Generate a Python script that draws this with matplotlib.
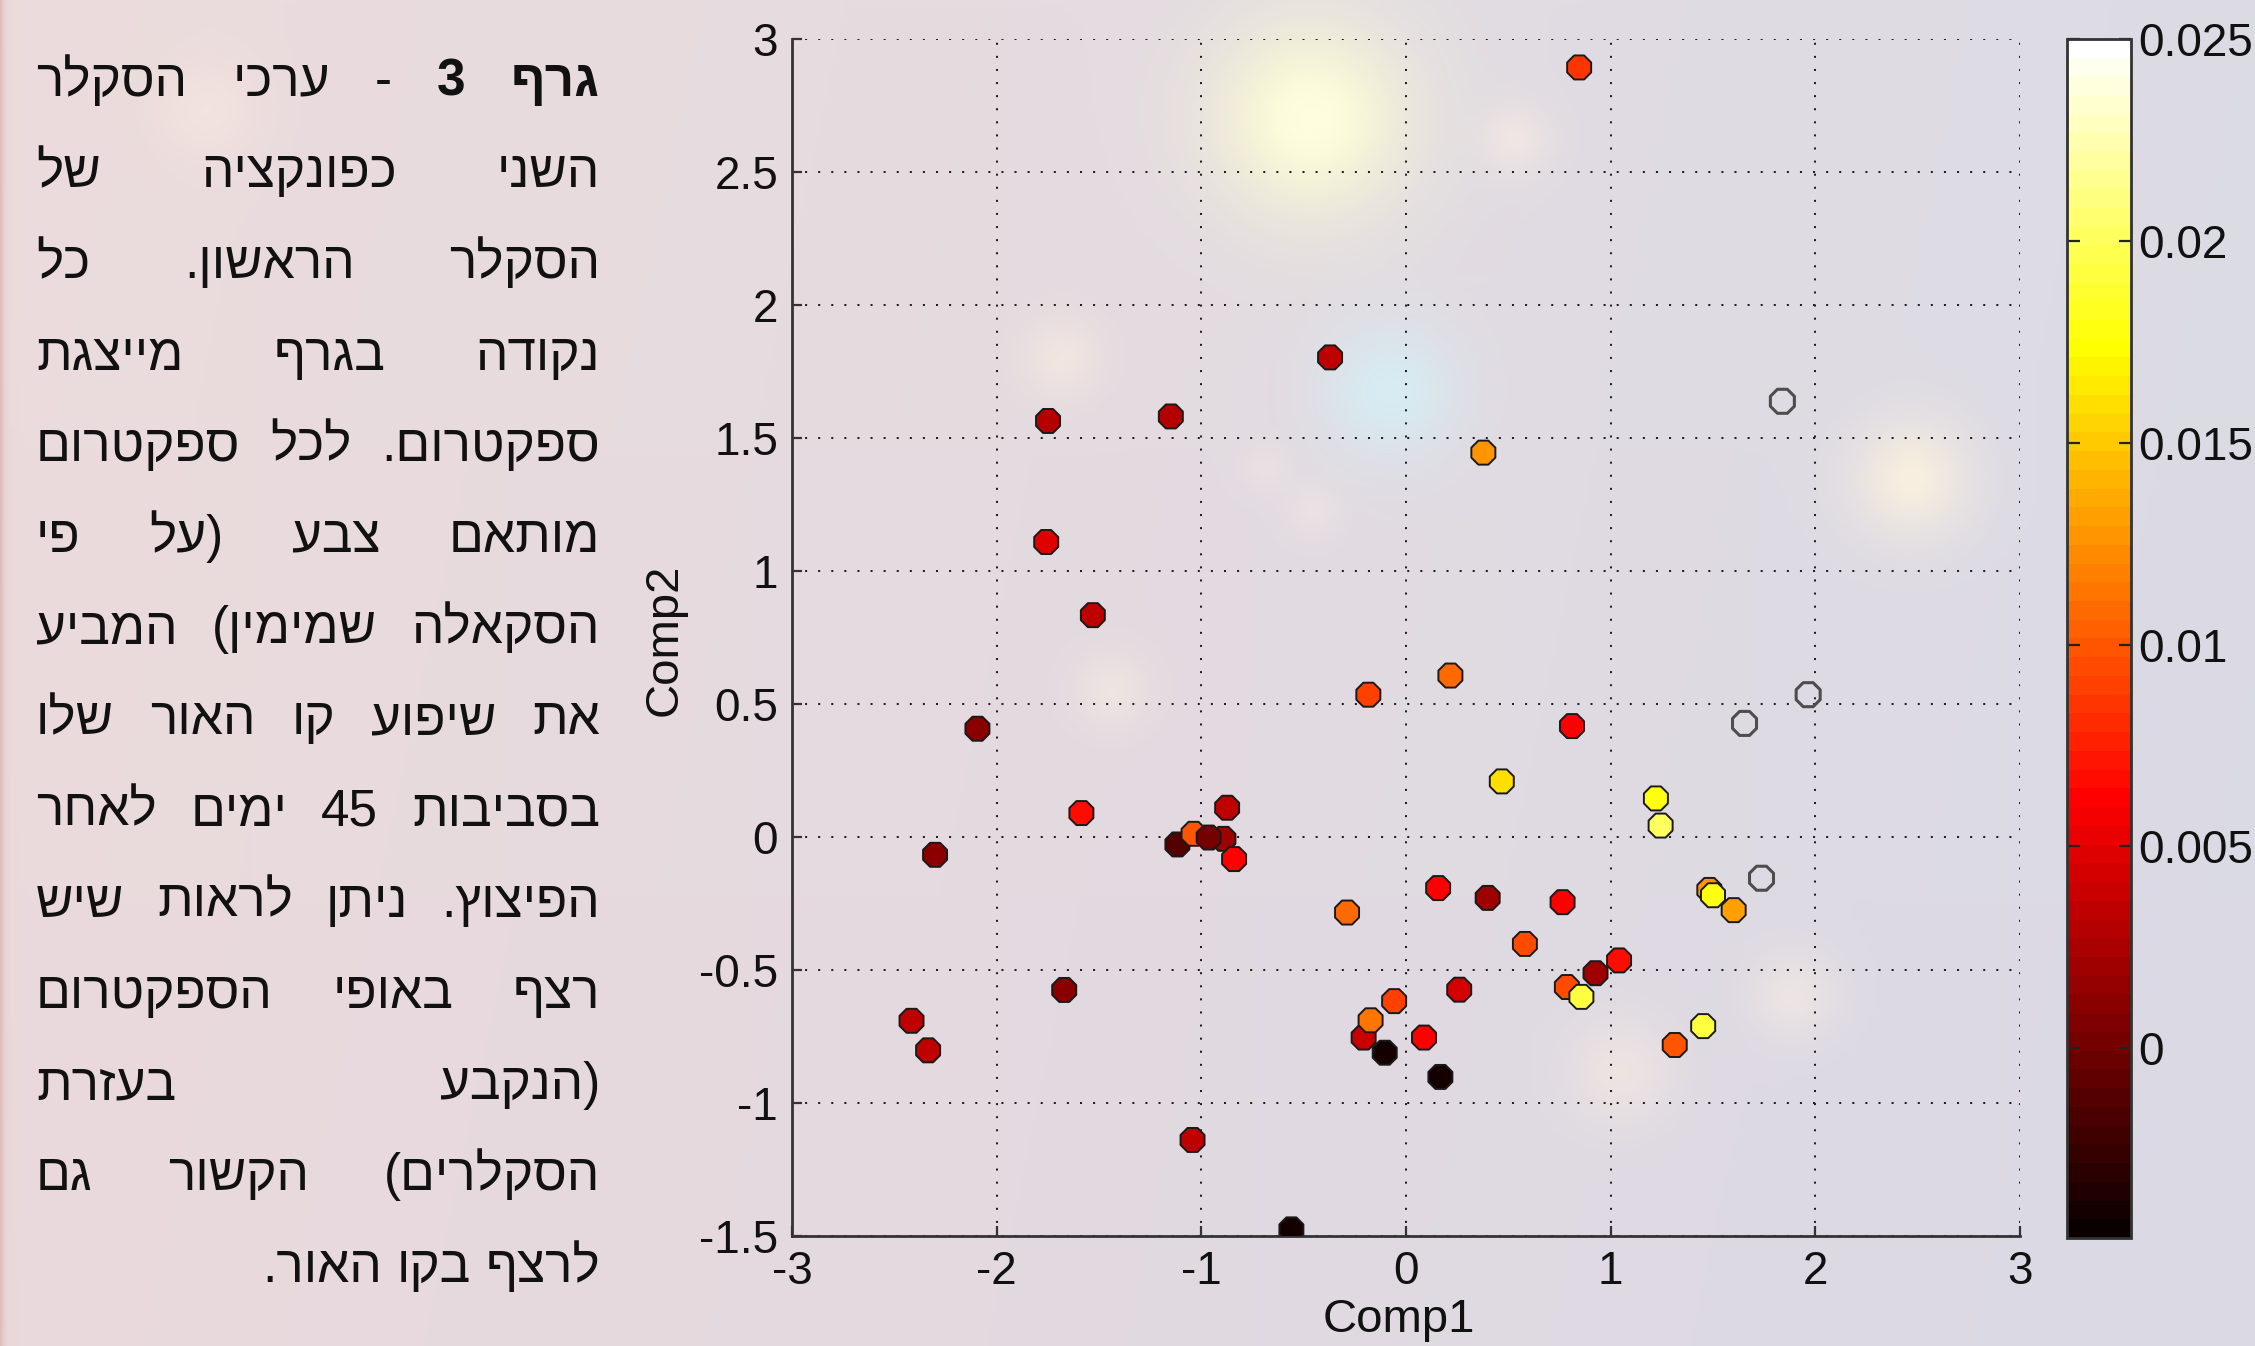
import numpy as np
import matplotlib
matplotlib.use("Agg")
import matplotlib.pyplot as plt
from matplotlib.colors import Normalize
from matplotlib.ticker import FuncFormatter

# ---- data -------------------------------------------------------------
comp1 = [-1.749, -1.149, -1.758, -1.530, -0.371, 0.846, 0.378, -2.094,
         -1.586, -2.301, -0.874, -1.117, -1.038, -0.892, -0.964, -0.840,
         -1.670, -2.416, -2.335, -1.043, -0.560, -0.184, 0.217, 0.811,
         0.468, 1.221, 1.244, 1.482, 1.500, 1.601, 0.157, 0.399,
         0.765, -0.288, 0.581, 1.041, 0.926, 0.786, 0.857, 0.260,
         -0.058, -0.207, -0.173, -0.104, 0.088, 0.168, 1.452, 1.313]
comp2 = [1.564, 1.581, 1.109, 0.834, 1.803, 2.893, 1.445, 0.407,
         0.090, -0.067, 0.110, -0.028, 0.012, -0.007, -0.002, -0.083,
         -0.575, -0.691, -0.802, -1.139, -1.475, 0.535, 0.607, 0.417,
         0.209, 0.145, 0.043, -0.199, -0.219, -0.275, -0.192, -0.229,
         -0.245, -0.284, -0.402, -0.464, -0.512, -0.564, -0.601, -0.574,
         -0.617, -0.754, -0.689, -0.811, -0.754, -0.902, -0.711, -0.782]
slope = [0.0028, 0.0030, 0.0050, 0.0032, 0.0034, 0.0087, 0.0128, 0.0012,
         0.0065, 0.0013, 0.0033, -0.0014, 0.0100, 0.0022, 0.0004, 0.0060,
         0.0012, 0.0036, 0.0036, 0.0033, -0.0042, 0.0090, 0.0110, 0.0062,
         0.0158, 0.0180, 0.0202, 0.0125, 0.0178, 0.0130, 0.0062, 0.0022,
         0.0064, 0.0108, 0.0096, 0.0066, 0.0020, 0.0095, 0.0191, 0.0045,
         0.0090, 0.0040, 0.0113, -0.0040, 0.0063, -0.0041, 0.0190, 0.0101]

# spectra with no slope value (drawn hollow)
open_comp1 = [1.839, 1.965, 1.654, 1.737]
open_comp2 = [1.638, 0.535, 0.427, -0.155]

x_ticks = [-3, -2, -1, 0, 1, 2, 3]
y_ticks = [-1.5, -1, -0.5, 0, 0.5, 1, 1.5, 2, 2.5, 3]
cbar_ticks = [0, 0.005, 0.01, 0.015, 0.02, 0.025]
cbar_limits = (-0.0047, 0.025)

caption_lines = [
    "גרף 3 - ערכי הסקלר",
    "השני כפונקציה של",
    "הסקלר הראשון. כל",
    "נקודה בגרף מייצגת",
    "ספקטרום. לכל ספקטרום",
    "מותאם צבע (על פי",
    "הסקאלה שמימין) המביע",
    "את שיפוע קו האור שלו",
    "בסביבות 45 ימים לאחר",
    "הפיצוץ. ניתן לראות שיש",
    "רצף באופי הספקטרום",
    "(הנקבע בעזרת",
    "הסקלרים) הקשור גם",
    "לרצף בקו האור.",
]
bold_words = {(0, 0), (0, 1)}

# ---- figure ------------------------------------------------------------
W, H, DPI = 2255, 1346, 100
plt.rcParams['axes.unicode_minus'] = False
fig = plt.figure(figsize=(W / DPI, H / DPI), dpi=DPI)

# soft bokeh backdrop
bg = fig.add_axes([0, 0, 1, 1], zorder=-10)
step = 2
yy, xx = np.mgrid[0:H:step, 0:W:step].astype(float)
fx = xx / W
fy = yy / H
left_col = np.array([236, 220, 220], float)
right_col = np.array([220, 220, 229], float)
img = left_col * (1 - fx[..., None]) + right_col * fx[..., None]
img += np.array([-2, -3, 0], float) * fy[..., None]
glows = [
    (1311, 118, 70, (255, 255, 210), 0.9),
    (1311, 118, 30, (255, 255, 228), 0.75),
    (1390, 390, 48, (212, 240, 247), 0.8),
    (1912, 478, 40, (255, 244, 222), 0.8),
    (1515, 138, 24, (250, 236, 228), 0.6),
    (1061, 357, 28, (250, 236, 222), 0.6),
    (1111, 690, 26, (250, 238, 225), 0.5),
    (206, 110, 36, (248, 232, 225), 0.6),
    (1621, 1071, 36, (252, 238, 225), 0.5),
    (1793, 995, 30, (252, 240, 228), 0.5),
    (1313, 510, 18, (248, 236, 228), 0.4),
    (1265, 467, 16, (246, 234, 228), 0.4),
]
for gx, gy, sig, col, strength in glows:
    w = strength * np.exp(-((xx - gx) ** 2 + (yy - gy) ** 2) / (2 * sig ** 2))
    img = img * (1 - w[..., None]) + np.array(col, float) * w[..., None]
edge = np.exp(-xx / 3.0) * 0.6
img = img * (1 - edge[..., None]) + np.array([215, 170, 165], float) * edge[..., None]
bg.imshow(np.clip(img, 0, 255).astype(np.uint8), extent=[0, W, H, 0],
          interpolation='bilinear', aspect='auto')
bg.set_xlim(0, W)
bg.set_ylim(H, 0)
bg.axis('off')

# ---- scatter axes --------------------------------------------------------
ax_l, ax_r, ax_t, ax_b = 792, 2020, 39, 1236
ax = fig.add_axes([ax_l / W, 1 - ax_b / H, (ax_r - ax_l) / W, (ax_b - ax_t) / H])
ax.patch.set_alpha(0)

cmap = plt.get_cmap('hot', 64)
norm = Normalize(vmin=cbar_limits[0], vmax=cbar_limits[1])
sc = ax.scatter(comp1, comp2, c=slope, cmap=cmap, norm=norm, s=350,
                marker='8', edgecolors='#1a1a1a', linewidths=1.4, zorder=3)
ax.scatter(open_comp1, open_comp2, s=350, marker='8', facecolors='none',
           edgecolors='#4d4d4d', linewidths=2.2, zorder=3)

ax.set_xlim(-3, 3)
ax.set_ylim(-1.5, 3)
ax.set_xticks(x_ticks)
ax.set_yticks(y_ticks)
ax.set_xticklabels([f'{v:g}' for v in x_ticks])
ax.set_yticklabels([f'{v:g}' for v in y_ticks])
ax.grid(True, linestyle=(0, (1, 5.5)), color='#1e1e1e', linewidth=1.45)
ax.set_axisbelow(True)
for side in ('top', 'right'):
    ax.spines[side].set_visible(False)
for side in ('left', 'bottom'):
    ax.spines[side].set_color('#333333')
    ax.spines[side].set_linewidth(2.0)
tick_font = 'Liberation Sans'
ax.tick_params(direction='in', length=7, width=1.6, color='#333333',
               labelsize=33, pad=10, labelcolor='#111111')
for lab in ax.get_xticklabels() + ax.get_yticklabels():
    lab.set_fontfamily(tick_font)
ax.set_xlabel('Comp1', fontsize=34, fontfamily=tick_font, color='#111111')
ax.set_ylabel('Comp2', fontsize=34, fontfamily=tick_font, color='#111111')
ax.xaxis.set_label_coords(0.494, -0.052)
ax.yaxis.set_label_coords(-0.086, 0.498)

# ---- colorbar ------------------------------------------------------------
cb_l, cb_r, cb_t, cb_b = 2067, 2131, 39, 1238
cax = fig.add_axes([cb_l / W, 1 - cb_b / H, (cb_r - cb_l) / W, (cb_b - cb_t) / H])
cb = fig.colorbar(sc, cax=cax, ticks=cbar_ticks)
cb.outline.set_edgecolor('#333333')
cb.outline.set_linewidth(2.0)
cax.yaxis.set_major_formatter(FuncFormatter(lambda v, p: f'{v:g}'))
cax.tick_params(direction='in', length=9, width=1.6, color='#222222',
                left=True, right=True, labelleft=False, labelright=True,
                labelsize=33, pad=5, labelcolor='#111111')
for lab in cax.get_yticklabels():
    lab.set_fontfamily(tick_font)

# ---- Hebrew caption (laid out right-to-left, justified) ------------------
MIRROR = str.maketrans('()', ')(')


def visual_order(word):
    if any('\u0590' <= ch <= '\u05ff' for ch in word):
        return word[::-1].translate(MIRROR)
    return word


cap_family = ['Liberation Sans', 'DejaVu Sans']
txt_left, txt_right = 36, 600
base0, line_step = 96, 91.2
cap_size = 37
renderer = fig.canvas.get_renderer()
for i, line in enumerate(caption_lines):
    words = line.split()
    items = []
    for j, w in enumerate(words):
        t = fig.text(0, 0, visual_order(w), fontsize=cap_size,
                     family=cap_family, color='#111111',
                     fontweight='bold' if (i, j) in bold_words else 'normal',
                     ha='right', va='baseline')
        items.append(t)
    widths = [t.get_window_extent(renderer).width for t in items]
    if i == len(caption_lines) - 1:
        space = fig.text(0, 0, 'a a', fontsize=cap_size, family=cap_family)
        s2 = fig.text(0, 0, 'aa', fontsize=cap_size, family=cap_family)
        gap = (space.get_window_extent(renderer).width
               - s2.get_window_extent(renderer).width)
        space.remove()
        s2.remove()
    else:
        gap = (txt_right - txt_left - sum(widths)) / max(len(items) - 1, 1)
    x = txt_right
    y = base0 + i * line_step
    for t, wd in zip(items, widths):
        t.set_position((x / W, 1 - y / H))
        x -= wd + gap

fig.savefig('out.png', dpi=DPI)
